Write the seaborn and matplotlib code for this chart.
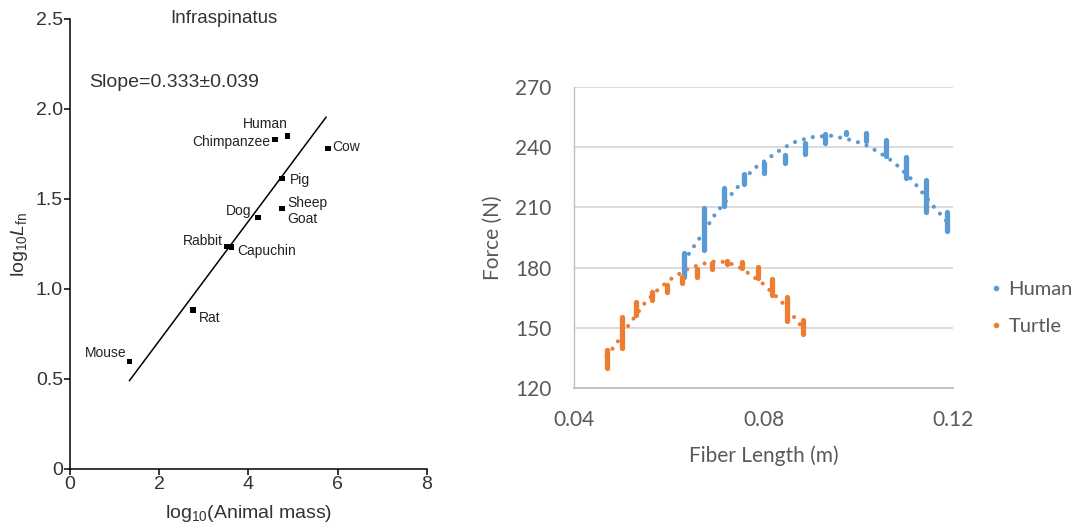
import numpy as np
import pandas as pd
import matplotlib
matplotlib.use("Agg")
import matplotlib.pyplot as plt
from matplotlib.lines import Line2D
import seaborn as sns

# ---------------- data: left panel ----------------
species = ["Mouse", "Rat", "Rabbit", "Capuchin", "Dog", "Pig", "Sheep\nGoat",
           "Chimpanzee", "Human", "Cow"]
log_mass = [1.33, 2.76, 3.51, 3.62, 4.21, 4.75, 4.75, 4.60, 4.87, 5.78]
log_lfn = [0.596, 0.883, 1.235, 1.232, 1.398, 1.615, 1.448, 1.83, 1.85, 1.78]
fit_x = [1.33, 5.74]
fit_y = [0.490, 1.955]
slope_text = "Slope=0.333\u00b10.039"
left_xticks = [0, 2, 4, 6, 8]
left_yticks = [0, 0.5, 1.0, 1.5, 2.0, 2.5]
left_yticklabels = ["0", "0.5", "1.0", "1.5", "2.0", "2.5"]

# ---------------- data: right panel ----------------
human_x = [0.0632, 0.0674, 0.0717, 0.0759, 0.0801, 0.0845, 0.0888, 0.0930,
           0.0974, 0.1016, 0.1058, 0.1101, 0.1144, 0.1187]
human_lo = [175.5, 189.0, 210.5, 221.5, 227.0, 232.0, 236.5, 242.0,
            246.5, 243.0, 235.5, 224.5, 207.5, 198.0]
human_hi = [187.5, 209.5, 219.5, 226.5, 232.0, 236.0, 242.0, 246.5,
            247.5, 247.0, 243.5, 235.0, 223.5, 207.5]
human_trend_x = [0.0632, 0.0648, 0.0669, 0.0698, 0.0733, 0.0778, 0.0810, 0.0840,
                 0.0871, 0.0907, 0.0944, 0.0979, 0.1012, 0.1042, 0.1074, 0.1113,
                 0.1158, 0.1187]
human_trend_y = [183.0, 188.8, 196.0, 206.6, 216.7, 229.0, 234.4, 239.4,
                 243.1, 245.2, 245.7, 243.9, 241.6, 237.7, 232.8, 223.9,
                 210.7, 203.0]

turtle_x = [0.0469, 0.0501, 0.0532, 0.0564, 0.0596, 0.0627, 0.0660, 0.0691,
            0.0722, 0.0754, 0.0788, 0.0819, 0.0850, 0.0884]
turtle_lo = [130.0, 140.0, 156.5, 164.0, 168.0, 172.5, 175.5, 179.5,
             182.0, 180.0, 175.0, 166.5, 153.5, 147.0]
turtle_hi = [139.0, 155.5, 163.0, 168.0, 171.5, 175.5, 179.5, 182.5,
             183.5, 183.0, 180.5, 174.5, 165.5, 154.0]
turtle_trend_x = [0.0469, 0.0489, 0.0508, 0.0530, 0.0550, 0.0575, 0.0603, 0.0638,
                  0.0670, 0.0700, 0.0725, 0.0750, 0.0772, 0.0800, 0.0838, 0.0871,
                  0.0884]
turtle_trend_y = [136.0, 141.9, 148.9, 156.0, 162.5, 168.5, 174.1, 179.1,
                  181.8, 183.2, 182.6, 180.0, 176.6, 171.8, 163.0, 153.5, 149.5]

right_xticks = [0.04, 0.08, 0.12]
right_xticklabels = ["0.04", "0.08", "0.12"]
right_yticks = [120, 150, 180, 210, 240, 270]
series_names = ["Human", "Turtle"]
series_colors = {"Human": "#5B9BD5", "Turtle": "#ED7D31"}

# ---------------- style ----------------
sns.set_theme(style="white")
plt.rcParams["font.family"] = ["Liberation Sans", "DejaVu Sans"]
plt.rcParams["mathtext.fontset"] = "custom"
plt.rcParams["mathtext.rm"] = "Liberation Sans"
plt.rcParams["mathtext.it"] = "Liberation Sans:italic"

fig = plt.figure(figsize=(10.72, 5.23), dpi=100)
fig.patch.set_facecolor("white")

# ================= left panel =================
ax1 = fig.add_axes([0.0653, 0.1033, 0.3330, 0.8604])
df_l = pd.DataFrame({"species": species, "mass": log_mass, "lfn": log_lfn})
sns.lineplot(x=fit_x, y=fit_y, color="black", lw=1.1, ax=ax1)
sns.scatterplot(data=df_l, x="mass", y="lfn", marker="s", s=16, color="black",
                edgecolor="none", ax=ax1, zorder=3)

label_offsets = {
    "Mouse": (-2.4, 6.0, "right"),
    "Rat": (4.0, -6.0, "left"),
    "Rabbit": (-2.4, 4.3, "right"),
    "Capuchin": (3.8, -2.4, "left"),
    "Dog": (-5.0, 4.8, "right"),
    "Pig": (5.5, -1.2, "left"),
    "Sheep\nGoat": (4.0, -1.8, "left"),
    "Chimpanzee": (-3.8, -1.9, "right"),
    "Human": (-15.6, 8.4, "center"),
    "Cow": (3.4, 1.2, "left"),
}
for sp, mx, ly in zip(species, log_mass, log_lfn):
    dx, dy, ha = label_offsets[sp]
    ax1.annotate(sp, (mx, ly), xytext=(dx, dy), textcoords="offset points",
                 ha=ha, va="center", fontsize=10, color="#222222",
                 linespacing=1.15)

ax1.set_xlim(0, 8)
ax1.set_ylim(0, 2.5)
ax1.set_xticks(left_xticks)
ax1.set_xticklabels([str(v) for v in left_xticks])
ax1.set_yticks(left_yticks)
ax1.set_yticklabels(left_yticklabels)
ax1.tick_params(axis="both", direction="out", length=4, width=1.1,
                color="black", labelcolor="#333333", labelsize=14, pad=1,
                bottom=True, left=True)
for s in ["top", "right"]:
    ax1.spines[s].set_visible(False)
for s in ["left", "bottom"]:
    ax1.spines[s].set_color("black")
    ax1.spines[s].set_linewidth(1.1)
ax1.set_xlabel(r"log$_{10}$(Animal mass)", fontsize=14, color="#333333", labelpad=7)
ax1.set_ylabel(r"log$_{10}$$\mathit{L}_{\mathrm{fn}}$", fontsize=14,
               color="#333333", labelpad=4)
ax1.text(0.43, 1.0, "Infraspinatus", transform=ax1.transAxes, ha="center",
         va="center", fontsize=13.5, color="#333333")
ax1.text(0.053, 0.858, slope_text, transform=ax1.transAxes, ha="left",
         va="center", fontsize=14, color="#333333")

# ================= right panel =================
ax2 = fig.add_axes([0.5354, 0.2581, 0.3536, 0.5756])
rows = []
for name, xs, los, his in [("Human", human_x, human_lo, human_hi),
                           ("Turtle", turtle_x, turtle_lo, turtle_hi)]:
    for i, (xv, lo, hi) in enumerate(zip(xs, los, his)):
        rows.append({"series": name, "cid": f"{name}{i}", "x": xv, "y": lo})
        rows.append({"series": name, "cid": f"{name}{i}", "x": xv, "y": hi})
streaks = pd.DataFrame(rows)

for name, tx, ty in [("Human", human_trend_x, human_trend_y),
                     ("Turtle", turtle_trend_x, turtle_trend_y)]:
    sns.lineplot(x=tx, y=ty, ax=ax2, color=series_colors[name], lw=3.0,
                 linestyle=(0, (0.01, 2.2)), dash_capstyle="round", zorder=3)

sns.lineplot(data=streaks, x="x", y="y", hue="series", units="cid",
             estimator=None, sort=False, palette=series_colors, lw=3.8,
             solid_capstyle="round", legend=False, ax=ax2, zorder=4)

ax2.set_xlim(0.04, 0.12)
ax2.set_ylim(120, 270)
ax2.set_xticks(right_xticks)
ax2.set_xticklabels(right_xticklabels)
ax2.set_yticks(right_yticks)
ax2.grid(axis="y", color="#D9D9D9", lw=1.3)
ax2.grid(axis="x", visible=False)
ax2.set_axisbelow(True)
for s in ["top", "right"]:
    ax2.spines[s].set_visible(False)
ax2.spines["left"].set_color("#BFBFBF")
ax2.spines["left"].set_linewidth(1.0)
ax2.spines["bottom"].set_color("#BFBFBF")
ax2.spines["bottom"].set_linewidth(1.3)

rfont = ["Lato", "DejaVu Sans"]
ax2.tick_params(axis="both", length=0, labelcolor="#595959", labelsize=15)
ax2.tick_params(axis="y", pad=16)
ax2.tick_params(axis="x", pad=16)
for lab in ax2.get_xticklabels() + ax2.get_yticklabels():
    lab.set_family(rfont)
    lab.set_fontweight("normal")
ax2.set_xlabel("Fiber Length (m)", fontsize=15, color="#595959", family=rfont,
               fontweight="normal", labelpad=11)
ax2.set_ylabel("Force (N)", fontsize=15, color="#595959", family=rfont,
               fontweight="normal", labelpad=9)

handles = [Line2D([], [], marker="o", linestyle="none", markersize=4,
                  markerfacecolor=series_colors[n], markeredgecolor="none")
           for n in series_names]
leg = fig.legend(handles, series_names, loc="center left",
                 bbox_to_anchor=(0.9155, 0.411), frameon=False,
                 handlelength=0.4, handletextpad=0.45, labelspacing=1.0,
                 borderpad=0, prop={"family": rfont, "size": 14.5, "weight": "normal"})
for t in leg.get_texts():
    t.set_color("#595959")

fig.savefig("out.png", dpi=100, facecolor="white")
